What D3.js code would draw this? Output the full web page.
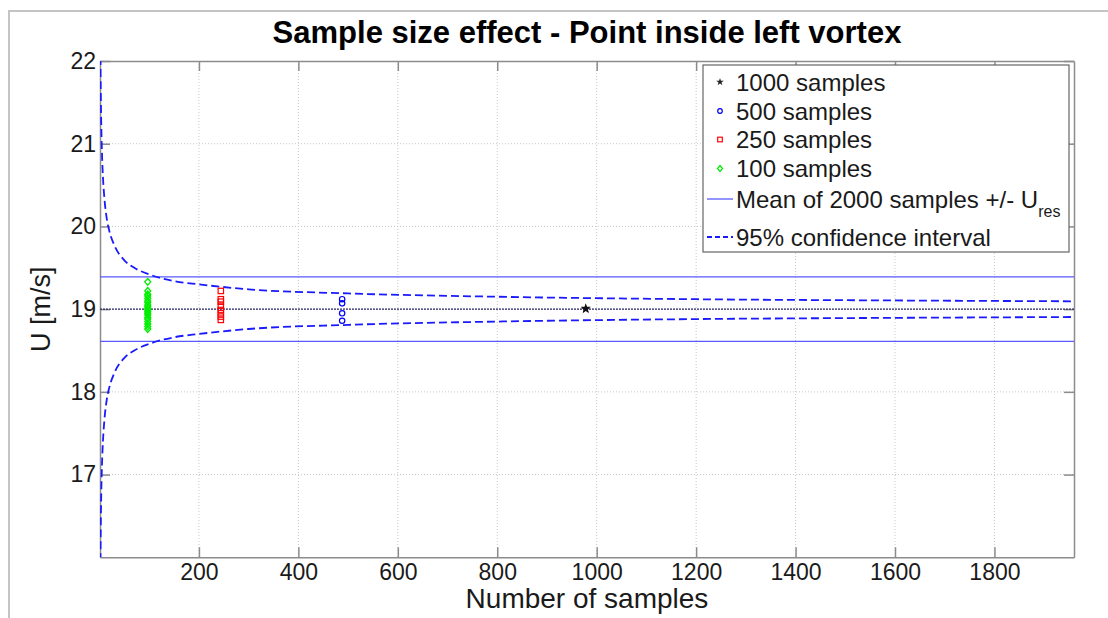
<html>
<script src="https://d3js.org/d3.v7.min.js"></script>
<body style="margin:0;background:#fff">
<div id="vis"></div>
<script>
    // chart data
    const chartTitle = 'Sample size effect - Point inside left vortex';
    const xLabel = 'Number of samples';
    const yLabel = 'U [m/s]';
    const xTicks = [200, 400, 600, 800, 1000, 1200, 1400, 1600, 1800];
    const yTicks = [17, 18, 19, 20, 21, 22];

    const meanU = 19.0;
    const uRes = 0.39;

    // 95% confidence band (dashed)
    const ciN = [1.9, 2.5, 3, 4, 5, 7, 10, 15, 20, 30, 50, 70, 100, 150, 200, 300, 500, 800, 1200, 1600, 1960];
    const ciUpper = [22.05, 21.66, 21.42, 21.10, 20.88, 20.59, 20.33, 20.08, 19.94, 19.77, 19.59, 19.50, 19.42, 19.34, 19.30, 19.24, 19.19, 19.15, 19.12, 19.105, 19.095];
    const ciLower = [15.95, 16.34, 16.58, 16.90, 17.12, 17.41, 17.67, 17.92, 18.06, 18.23, 18.41, 18.50, 18.58, 18.66, 18.70, 18.76, 18.81, 18.85, 18.88, 18.895, 18.905];

    // subsample means
    const n100 = 97, n250 = 244, n500 = 488, n1000 = 978;
    const u100 = [19.33, 19.22, 19.18, 19.16, 19.13, 19.10, 19.08, 19.05, 19.03, 19.01, 18.99, 18.97, 18.95, 18.93, 18.90, 18.88, 18.85, 18.82, 18.79, 18.76];
    const u250 = [19.22, 19.12, 19.09, 19.04, 18.99, 18.95, 18.91, 18.87];
    const u500 = [19.12, 19.07, 18.95, 18.86];
    const u1000 = [19.0, 19.01];

    const W = 1108, H = 618;
    const margin = {left: 100, top: 61, right: 34, bottom: 61};
    const font = '"Liberation Sans", Arial, Helvetica, sans-serif';

    const svg = d3.select('#vis').append('svg').attr('width', W).attr('height', H)
        .style('font-family', font);

    const x = d3.scaleLinear().domain([1, 1960]).range([margin.left, W - margin.right]);
    const y = d3.scaleLinear().domain([16, 22]).range([H - margin.bottom + 0.3, margin.top]);

    // outer frame of the screenshot
    svg.append('path').attr('d', `M9,${H} V11 H${W}`)
        .attr('fill', 'none').attr('stroke', '#c4c4c4').attr('stroke-width', 2);

    // grid
    svg.append('g').selectAll('line').data(xTicks).join('line')
        .attr('x1', d => x(d)).attr('x2', d => x(d))
        .attr('y1', y(22)).attr('y2', y(16))
        .attr('stroke', '#c8c8c8').attr('stroke-dasharray', '1,2');
    svg.append('g').selectAll('line').data(yTicks.filter(d => d < 22)).join('line')
        .attr('x1', x.range()[0]).attr('x2', x.range()[1])
        .attr('y1', d => y(d)).attr('y2', d => y(d))
        .attr('stroke', '#c8c8c8').attr('stroke-dasharray', '1,2');

    // axes with inward ticks on all four sides
    const axisColor = '#8c8c8c';
    const fmt = d3.format('d');
    const gB = svg.append('g').attr('transform', `translate(0,${y(16)})`)
        .call(d3.axisBottom(x).tickValues(xTicks).tickFormat(fmt).tickSizeInner(-10).tickSizeOuter(0).tickPadding(6));
    const gT = svg.append('g').attr('transform', `translate(0,${y(22)})`)
        .call(d3.axisTop(x).tickValues(xTicks).tickSizeInner(-10).tickSizeOuter(0).tickFormat(''));
    const gL = svg.append('g').attr('transform', `translate(${x(1)},0)`)
        .call(d3.axisLeft(y).tickValues(yTicks).tickFormat(fmt).tickSizeInner(-10).tickSizeOuter(0).tickPadding(4));
    const gR = svg.append('g').attr('transform', `translate(${x(1960)},0)`)
        .call(d3.axisRight(y).tickValues(yTicks).tickSizeInner(-10).tickSizeOuter(0).tickFormat(''));
    [gB, gT, gL, gR].forEach(g => {
        g.select('.domain').attr('stroke', axisColor).attr('stroke-width', 1.5);
        g.selectAll('.tick line').attr('stroke', axisColor).attr('stroke-width', 1.5);
        g.selectAll('.tick text').attr('fill', '#1a1a1a').style('font-size', '23px').style('font-family', font);
    });

    // clip for the curves
    svg.append('clipPath').attr('id', 'plotclip').append('rect')
        .attr('x', x(1)).attr('y', y(22)).attr('width', x(1960) - x(1)).attr('height', y(16) - y(22));
    const plot = svg.append('g').attr('clip-path', 'url(#plotclip)');

    // mean and +/- U_res
    plot.append('line').attr('x1', x(1)).attr('x2', x(1960)).attr('y1', y(meanU)).attr('y2', y(meanU))
        .attr('stroke', '#2a2a6a').attr('stroke-width', 1.2).attr('stroke-dasharray', '2,1');
    [meanU + uRes, meanU - uRes].forEach(v => {
        plot.append('line').attr('x1', x(1)).attr('x2', x(1960)).attr('y1', y(v)).attr('y2', y(v))
            .attr('stroke', '#5a5aff').attr('stroke-width', 1.3);
    });

    // confidence band
    const ciLine = d3.line().x(d => x(d[0])).y(d => y(d[1])).curve(d3.curveMonotoneX);
    [ciUpper, ciLower].forEach(vals => {
        plot.append('path').datum(ciN.map((n, i) => [n, vals[i]]))
            .attr('d', ciLine).attr('fill', 'none')
            .attr('stroke', '#1a1aff').attr('stroke-width', 1.8).attr('stroke-dasharray', '8,4');
    });

    // markers
    const diamond = 'M0,-3.4L3,0L0,3.4L-3,0Z';
    plot.append('g').selectAll('path').data(u100).join('path')
        .attr('d', diamond).attr('transform', d => `translate(${x(n100)},${y(d)})`)
        .attr('fill', 'none').attr('stroke', '#00ee00').attr('stroke-width', 1.3);
    plot.append('g').selectAll('rect').data(u250).join('rect')
        .attr('x', x(n250) - 2.7).attr('y', d => y(d) - 2.7).attr('width', 5.4).attr('height', 5.4)
        .attr('fill', 'none').attr('stroke', '#ff0000').attr('stroke-width', 1.2);
    plot.append('g').selectAll('circle').data(u500).join('circle')
        .attr('cx', x(n500)).attr('cy', d => y(d)).attr('r', 2.7)
        .attr('fill', 'none').attr('stroke', '#0000ff').attr('stroke-width', 1.2);
    plot.append('g').selectAll('path').data(u1000).join('path')
        .attr('d', d3.symbol(d3.symbolStar, 30)).attr('transform', d => `translate(${x(n1000)},${y(d)})`)
        .attr('fill', '#111');

    // labels
    svg.append('text').attr('x', (x(1) + x(1960)) / 2).attr('y', 43).attr('text-anchor', 'middle')
        .style('font-size', '31px').style('font-weight', 'bold').attr('fill', '#000').text(chartTitle);
    svg.append('text').attr('x', (x(1) + x(1960)) / 2).attr('y', 608).attr('text-anchor', 'middle')
        .style('font-size', '28px').attr('fill', '#1a1a1a').text(xLabel);
    svg.append('text').attr('transform', `translate(50,${(y(16) + y(22)) / 2}) rotate(-90)`)
        .attr('text-anchor', 'middle').style('font-size', '27px').attr('fill', '#1a1a1a').text(yLabel);

    // legend
    const lg = svg.append('g');
    lg.append('rect').attr('x', 703).attr('y', 65).attr('width', 366).attr('height', 187)
        .attr('fill', '#fff').attr('stroke', '#666').attr('stroke-width', 1.2);
    const rows = [
        {label: '1000 samples', cy: 82, kind: 'star'},
        {label: '500 samples', cy: 111, kind: 'circle'},
        {label: '250 samples', cy: 139.5, kind: 'square'},
        {label: '100 samples', cy: 168.5, kind: 'diamond'},
        {label: 'Mean of 2000 samples +/- U', sub: 'res', cy: 199, kind: 'line'},
        {label: '95% confidence interval', cy: 237, kind: 'dash'}
    ];
    rows.forEach(r => {
        if (r.kind === 'star') lg.append('path').attr('d', d3.symbol(d3.symbolStar, 18))
            .attr('transform', `translate(720,${r.cy})`).attr('fill', '#222');
        if (r.kind === 'circle') lg.append('circle').attr('cx', 720).attr('cy', r.cy).attr('r', 2.3)
            .attr('fill', 'none').attr('stroke', '#0000ff').attr('stroke-width', 1.2);
        if (r.kind === 'square') lg.append('rect').attr('x', 717.7).attr('y', r.cy - 2.3).attr('width', 4.6).attr('height', 4.6)
            .attr('fill', 'none').attr('stroke', '#ff0000').attr('stroke-width', 1.2);
        if (r.kind === 'diamond') lg.append('path').attr('d', 'M0,-3L2.5,0L0,3L-2.5,0Z').attr('transform', `translate(720,${r.cy})`)
            .attr('fill', 'none').attr('stroke', '#00ee00').attr('stroke-width', 1.2);
        if (r.kind === 'line') lg.append('line').attr('x1', 707).attr('x2', 733).attr('y1', r.cy).attr('y2', r.cy)
            .attr('stroke', '#5a5aff').attr('stroke-width', 1.3);
        if (r.kind === 'dash') lg.append('line').attr('x1', 707).attr('x2', 733).attr('y1', r.cy).attr('y2', r.cy)
            .attr('stroke', '#1a1aff').attr('stroke-width', 1.8).attr('stroke-dasharray', '5,3');
        const t = lg.append('text').attr('x', 736).attr('y', r.cy + 8.5).style('font-size', '24px')
            .attr('fill', '#1a1a1a').text(r.label);
        if (r.sub) t.append('tspan').attr('dy', 9).style('font-size', '16px').text(r.sub);
    });
</script>
</body>
</html>
